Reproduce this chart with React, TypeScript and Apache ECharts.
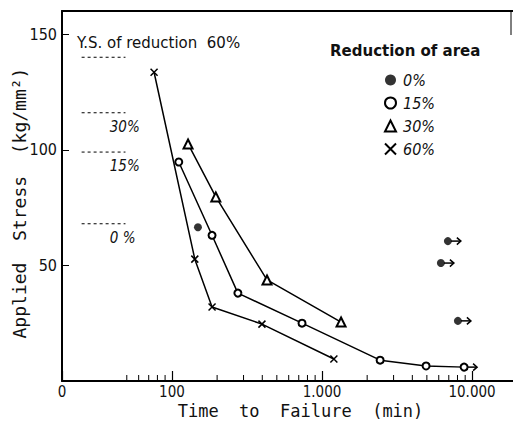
import React, { useEffect, useRef } from "react";
import * as echarts from "echarts";

// ---- data ----
const xMinorTicks = [50, 60, 70, 80, 90, 200, 300, 400, 500, 600, 700, 800, 900, 2000, 3000, 4000, 5000, 6000, 7000, 8000, 9000];

const s0Time = [149, 6900, 6200, 8050];
const s0Stress = [66.5, 60.5, 51, 26];
const s0Runout = [false, true, true, true];

const s15Time = [111, 185, 275, 736, 2440, 4940, 8850];
const s15Stress = [94.7, 63, 38, 25, 9, 6.5, 6];
const s15Runout = [false, false, false, false, false, false, true];

const s30Time = [128, 196, 430, 1340];
const s30Stress = [102.5, 79.6, 43.7, 25.5];

const s60Time = [76, 142, 185, 398, 1200];
const s60Stress = [133.5, 52.7, 32, 24.6, 9.5];

const ysStress = [140, 116, 99, 68];
const ysLabels = ["Y.S. of reduction  60%", "30%", "15%", "0 %"];
const ysFrom = 25;
const ysTo = 49;
const ysLabelAt = [23.3, 38.5, 38.5, 38.5];

const crossPath = "path://M0,0L10,10M10,0L0,10";
const FONT = "'DejaVu Sans', sans-serif";
const MONO = "'DejaVu Sans Mono', 'Liberation Mono', monospace";
const NARROW = "'Liberation Sans Narrow', 'DejaVu Sans Condensed', 'Liberation Sans', sans-serif";

const zip = (a: number[], b: number[]) => a.map((v, i) => [v, b[i]]);

export default function App() {
  const ref = useRef<HTMLDivElement>(null);
  useEffect(() => {
    if (!ref.current) return;
    const chart = echarts.init(ref.current, undefined, { renderer: "svg" });

    const runouts = [
      ...zip(s0Time, s0Stress).filter((_, i) => s0Runout[i]),
      ...zip(s15Time, s15Stress).filter((_, i) => s15Runout[i]),
    ];

    const fmtX = (v: number) => {
      if (v < 50) return "0";
      if (v > 15000) return "";
      const r = Math.round(v);
      return String(r).replace(/\B(?=(\d{3})+(?!\d))/g, ".");
    };

    const option: any = {
      animation: false,
      backgroundColor: "#fff",
      grid: { left: 62, right: 0, top: 11, bottom: 42, outerBoundsMode: "none" },
      xAxis: [
        {
          type: "log",
          logBase: 10,
          min: 18.5,
          max: 18750,
          name: "Time  to  Failure  (min)",
          nameLocation: "middle",
          nameGap: 21,
          nameMoveOverlap: false,
          nameTextStyle: { fontFamily: MONO, fontSize: 17, color: "#111", padding: [0, 0, 0, 26] },
          axisLine: { lineStyle: { color: "#000", width: 2 } },
          axisTick: { inside: true, length: 10, lineStyle: { color: "#000", width: 1.2 } },
          axisLabel: { formatter: fmtX, fontFamily: NARROW, fontSize: 15, color: "#111", margin: 3, showMaxLabel: false },
          splitLine: { show: false },
        },
        {
          type: "log",
          position: "top",
          min: 18.5,
          max: 18750,
          axisLine: { show: true, lineStyle: { color: "#000", width: 2 } },
          axisTick: { show: false },
          axisLabel: { show: false },
          splitLine: { show: false },
        },
      ],
      yAxis: {
        type: "value",
        min: 0,
        max: 160,
        interval: 50,
        name: "Applied  Stress  (kg/mm²)",
        nameLocation: "middle",
        nameRotate: 90,
        nameGap: 34,
        nameMoveOverlap: false,
        nameTextStyle: { fontFamily: MONO, fontSize: 18, color: "#111", padding: [0, 14, 0, 0] },
        axisLine: { lineStyle: { color: "#000", width: 2 } },
        axisTick: { inside: true, length: 7, lineStyle: { color: "#000" } },
        axisLabel: {
          formatter: (v: number) => (v > 0 && v % 50 === 0 ? String(v) : ""),
          fontFamily: NARROW,
          fontSize: 16,
          color: "#111",
          margin: 5,
        },
        splitLine: { show: false },
      },
      legend: {
        orient: "vertical",
        left: 384,
        top: 72,
        padding: 0,
        itemWidth: 11,
        itemHeight: 11,
        itemGap: 7,
        textStyle: { fontFamily: NARROW, fontSize: 16, fontStyle: "italic", color: "#111", padding: [0, 0, 0, 2] },
        data: [
          { name: "0%", icon: "circle", itemStyle: { color: "#000" } },
          { name: "15%", icon: "emptyCircle", itemStyle: { color: "#000", borderColor: "#000", borderWidth: 2 } },
          { name: "30%", icon: "emptyTriangle", itemStyle: { color: "#000", borderColor: "#000", borderWidth: 2 } },
          { name: "60%", icon: crossPath, itemStyle: { color: "#000", borderColor: "#000", borderWidth: 2 } },
        ],
      },
      graphic: [
        {
          type: "text",
          left: 330,
          top: 43,
          style: { text: "Reduction of area", font: `bold 15px ${FONT}`, fill: "#111" },
        },
        {
          type: "line",
          shape: { x1: 511, y1: 11, x2: 511, y2: 35 },
          style: { stroke: "#000", lineWidth: 1 },
        },
      ],
      series: [
        {
          type: "custom",
          name: "minorTicks",
          silent: true,
          data: xMinorTicks.map((v) => [v, 0]),
          renderItem: (params: any, api: any) => {
            const p = api.coord([api.value(0), 0]);
            return {
              type: "line",
              shape: { x1: p[0], y1: p[1], x2: p[0], y2: p[1] - 6 },
              style: { stroke: "#000", lineWidth: 1 },
            };
          },
          z: 1,
        },
        {
          type: "custom",
          name: "ys",
          silent: true,
          data: ysStress.map((v, i) => [ysFrom, v, i]),
          renderItem: (params: any, api: any) => {
            const i = api.value(2);
            const a = api.coord([ysFrom, api.value(1)]);
            const b = api.coord([ysTo, api.value(1)]);
            const t = api.coord([ysLabelAt[i], api.value(1)]);
            return {
              type: "group",
              children: [
                {
                  type: "line",
                  shape: { x1: a[0], y1: a[1], x2: b[0], y2: b[1] },
                  style: { stroke: "#000", lineWidth: 1, lineDash: [3, 3] },
                },
                {
                  type: "text",
                  x: t[0],
                  y: i === 0 ? t[1] - 14 : t[1] + 14,
                  style: {
                    text: ysLabels[i],
                    font: i === 0 ? `15px ${FONT}` : `italic 15px ${NARROW}`,
                    fill: "#111",
                    verticalAlign: "middle",
                    align: "left",
                  },
                },
              ],
            };
          },
        },
        {
          type: "line",
          name: "60%",
          data: zip(s60Time, s60Stress),
          symbol: crossPath,
          symbolSize: 7,
          lineStyle: { color: "#000", width: 1.5 },
          itemStyle: { color: "#000", borderColor: "#000", borderWidth: 1.5 },
        },
        {
          type: "line",
          name: "15%",
          data: zip(s15Time, s15Stress),
          symbol: "emptyCircle",
          symbolSize: 7,
          lineStyle: { color: "#000", width: 1.5 },
          itemStyle: { color: "#000", borderColor: "#000", borderWidth: 1.5 },
        },
        {
          type: "line",
          name: "30%",
          data: zip(s30Time, s30Stress),
          symbol: "emptyTriangle",
          symbolSize: 9,
          lineStyle: { color: "#000", width: 1.5 },
          itemStyle: { color: "#000", borderColor: "#000", borderWidth: 1.5 },
        },
        {
          type: "scatter",
          name: "0%",
          data: zip(s0Time, s0Stress),
          symbol: "circle",
          symbolSize: 8,
          itemStyle: { color: "#000" },
        },
        {
          type: "custom",
          name: "runout",
          silent: true,
          data: runouts,
          renderItem: (params: any, api: any) => {
            const p = api.coord([api.value(0), api.value(1)]);
            const x = p[0];
            const y = p[1];
            return {
              type: "group",
              children: [
                { type: "line", shape: { x1: x + 3, y1: y, x2: x + 13, y2: y }, style: { stroke: "#000", lineWidth: 1.5 } },
                {
                  type: "polyline",
                  shape: { points: [[x + 9, y - 3.5], [x + 13, y], [x + 9, y + 3.5]] },
                  style: { stroke: "#000", lineWidth: 1.5, fill: "none" },
                },
              ],
            };
          },
        },
      ],
    };

    chart.setOption(option);
    return () => chart.dispose();
  }, []);

  return <div ref={ref} style={{ position: "absolute", left: 0, top: 0, width: 513, height: 423 }} />;
}
